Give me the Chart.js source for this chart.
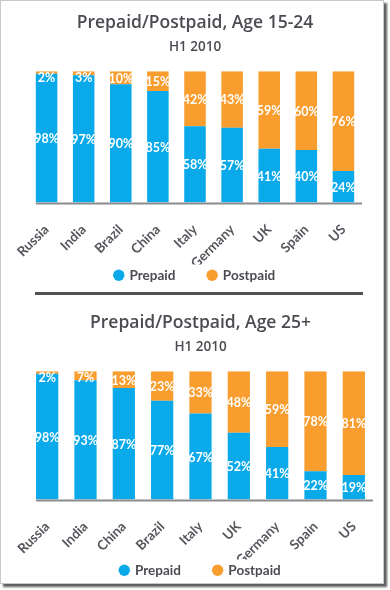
<!DOCTYPE html>
<html>
<head>
<meta charset="utf-8">
<script src="https://cdn.jsdelivr.net/npm/chart.js@4"></script>
<style>
  html, body { margin: 0; padding: 0; background: #ffffff; }
  #frame {
    position: absolute; left: 0; top: 0;
    width: 382px; height: 582px;
    border: 1px solid #c9c9c9;
    box-shadow: 3px 3px 2px rgba(40, 40, 40, 0.75);
    background: #ffffff;
  }
  .box { position: absolute; left: 0; width: 384px; }
  #box1 { top: 0; height: 292px; }
  #box2 { top: 298px; height: 289px; }
  #rule {
    position: absolute; left: 35px; top: 292px;
    width: 328px; height: 3px; background: #505256;
  }
</style>
</head>
<body>
<div id="frame"></div>
<div class="box" id="box1"><canvas id="youngChart"></canvas></div>
<div id="rule"></div>
<div class="box" id="box2"><canvas id="olderChart"></canvas></div>
<script>
const youngCountries = ["Russia", "India", "Brazil", "China", "Italy", "Germany", "UK", "Spain", "US"];
const youngPrepaid = [98, 97, 90, 85, 58, 57, 41, 40, 24];
const youngPostpaid = [2, 3, 10, 15, 42, 43, 59, 60, 76];

const olderCountries = ["Russia", "India", "China", "Brazil", "Italy", "UK", "Germany", "Spain", "US"];
const olderPrepaid = [98, 93, 87, 77, 67, 52, 41, 22, 19];
const olderPostpaid = [2, 7, 13, 23, 33, 48, 59, 78, 81];

const BLUE = "#0aa9ea";
const ORANGE = "#f89d2e";
const TEXT = "#4b4c52";
const TITLE_FONT = "'Open Sans', sans-serif";
const FONT = "Lato, sans-serif";

// white % labels inside each segment, plus the baseline
const barLabels = {
  id: "barLabels",
  afterDatasetsDraw(chart) {
    const ctx = chart.ctx;
    const top = chart.scales.y.getPixelForValue(100);
    ctx.save();
    ctx.font = "bold 12.5px " + FONT;
    ctx.fillStyle = "#ffffff";
    ctx.textAlign = "center";
    ctx.textBaseline = "middle";
    chart.data.datasets.forEach((ds, i) => {
      chart.getDatasetMeta(i).data.forEach((bar, j) => {
        const mid = (bar.y + bar.base) / 2 + 1;
        ctx.fillText(ds.data[j] + "%", bar.x, Math.max(mid, top + 7));
      });
    });
    const first = chart.getDatasetMeta(0).data[0];
    const baseY = chart.scales.y.getPixelForValue(0);
    ctx.strokeStyle = "#8a8b8e";
    ctx.lineWidth = 2;
    ctx.beginPath();
    ctx.moveTo(first.x - first.width / 2, baseY + 1);
    ctx.lineTo(chart.chartArea.right, baseY + 1);
    ctx.stroke();
    ctx.restore();
  }
};

function makeChart(id, title, labels, prepaid, postpaid, pad, axisHeight) {
  return new Chart(document.getElementById(id), {
    type: "bar",
    data: {
      labels: labels,
      datasets: [
        { label: "Prepaid", data: prepaid, backgroundColor: BLUE },
        { label: "Postpaid", data: postpaid, backgroundColor: ORANGE }
      ]
    },
    options: {
      responsive: true,
      maintainAspectRatio: false,
      animation: false,
      barPercentage: 0.58,
      categoryPercentage: 1,
      layout: { padding: pad },
      plugins: {
        title: {
          display: true,
          text: title,
          color: TEXT,
          font: { family: TITLE_FONT, size: 17.5, weight: "600" },
          padding: { top: 0, bottom: 5 }
        },
        subtitle: {
          display: true,
          text: "H1 2010",
          color: TEXT,
          font: { family: TITLE_FONT, size: 13.5, weight: "600" },
          padding: { top: 0, bottom: 16 }
        },
        legend: {
          position: "bottom",
          labels: {
            usePointStyle: true,
            pointStyle: "circle",
            boxWidth: 8,
            boxHeight: 8,
            padding: 4,
            color: TEXT,
            font: { family: FONT, size: 13.5, weight: "bold" },
            generateLabels(chart) {
              const items = Chart.defaults.plugins.legend.labels.generateLabels(chart);
              items[0].text += "\u2003\u2003\u2002\u2009";
              return items;
            }
          }
        },
        tooltip: { enabled: false }
      },
      scales: {
        x: {
          stacked: true,
          grid: { display: false },
          border: { display: false },
          afterFit(scale) {
            scale.height = axisHeight;
          },
          ticks: {
            color: "#55575c",
            minRotation: 45,
            maxRotation: 45,
            padding: 11,
            font: { family: FONT, size: 13.5, weight: "bold" }
          }
        },
        y: {
          stacked: true,
          display: false,
          min: 0,
          max: 100
        }
      }
    },
    plugins: [barLabels]
  });
}

makeChart("youngChart", "Prepaid/Postpaid, Age 15-24", youngCountries, youngPrepaid, youngPostpaid,
  { top: 13, left: 28, right: 22, bottom: 0 }, 62);
makeChart("olderChart", "Prepaid/Postpaid, Age 25+", olderCountries, olderPrepaid, olderPostpaid,
  { top: 15, left: 28, right: 11, bottom: 0 }, 60);
</script>
</body>
</html>
